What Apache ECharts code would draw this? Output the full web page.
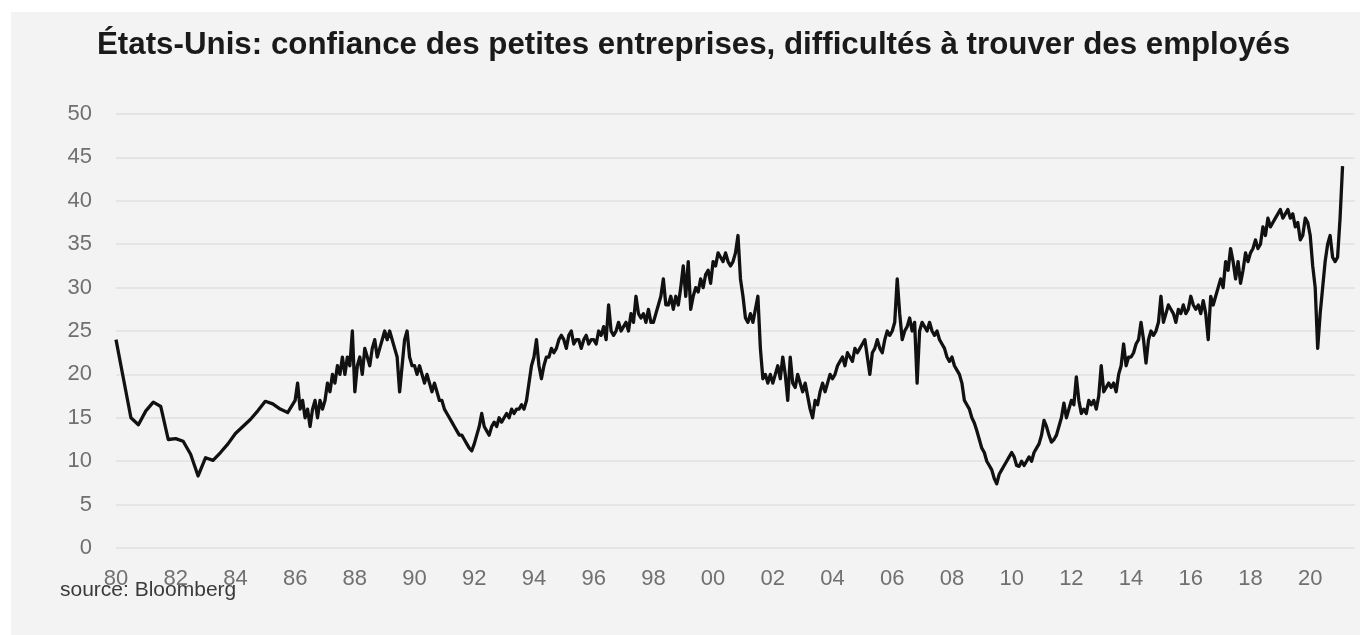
<!DOCTYPE html>
<html>
<head>
<meta charset="utf-8">
<script src="https://cdn.jsdelivr.net/npm/echarts@6/dist/echarts.min.js"></script>
<style>
html,body{margin:0;padding:0;background:#ffffff;}
#chart{position:absolute;left:11px;top:12px;width:1349px;height:623px;background:#f3f3f3;}
</style>
</head>
<body>
<div id="chart"></div>
<script>
// Quarterly survey values 1980 Q1 - 1985 Q4
const quarterly1980_1985 = [
  24, 19.5, 15, 14.2,
  15.8, 16.8, 16.3, 12.5,
  12.6, 12.3, 10.8, 8.3,
  10.4, 10.1, 11, 12,
  13.2, 14, 14.8, 15.8,
  16.9, 16.6, 16, 15.6
];
// Monthly values from Jan 1986
const monthly1986_1995 = [
  17, 19, 16, 17, 15, 16, 14, 16, 17, 15, 17, 16,
  17, 19, 18, 20, 19, 21, 20, 22, 20, 22, 21, 25,
  18, 21, 22, 20, 23, 22, 21, 23, 24, 22, 23, 24,
  25, 24, 25, 24, 23, 22, 18, 21, 24, 25, 22, 21,
  21, 20, 21, 20, 19, 20, 19, 18, 19, 18, 17, 17,
  16, 15.5, 15, 14.5, 14, 13.5, 13, 13, 12.5, 12, 11.5, 11.2,
  12, 13, 14, 15.5, 14, 13.5, 13, 14, 14.5, 14, 15, 14.5,
  15, 15.5, 15, 16, 15.5, 16, 16, 16.5, 16, 17, 19, 21,
  22, 24, 21, 19.5, 21, 22, 22, 23, 22.5, 23, 24, 24.5,
  24, 23, 24.5, 25, 23.5, 24, 24, 23, 24, 24.5, 23.5, 24
];
const monthly1996_2005 = [
  24, 23.5, 25, 24.5, 25.5, 24, 28, 25, 24.5, 25, 26, 25,
  25.5, 26, 25, 27, 26, 29, 27, 26.5, 27, 26, 27.5, 26,
  26, 27, 28, 29, 31, 28, 28, 29, 27.5, 29, 28, 30,
  32.5, 29, 33, 27.5, 29, 30, 29.5, 31, 30, 31.5, 32, 30.5,
  33, 32.5, 34, 33.5, 33, 34, 33, 32.5, 33, 34, 36, 31,
  29, 26.5, 26, 27, 26, 27.5, 29, 23, 19.5, 20, 19, 20,
  19, 20, 21, 19.5, 22, 20, 17, 22, 19, 18.5, 20, 19,
  18, 19, 17.5, 16, 15, 17, 16.5, 18, 19, 18, 19, 20,
  19.5, 20, 21, 21.5, 22, 21, 22.5, 22, 21.5, 23, 22.5, 23,
  23.5, 24, 22, 20, 22.5, 23, 24, 23, 22.5, 24, 25, 24.5
];
const monthly2006_2015 = [
  25, 26, 31, 27, 24, 25, 25.5, 26.5, 25, 26, 19, 25,
  26, 25.5, 25, 26, 25, 24.5, 25, 24, 23.5, 23, 22, 21.5,
  22, 21, 20.5, 20, 19, 17, 16.5, 16, 15, 14.4, 13.5, 12.5,
  11.5, 11, 10, 9.5, 9, 8, 7.4, 8.5, 9, 9.5, 10, 10.5,
  11, 10.5, 9.5, 9.4, 10, 9.5, 10, 10.5, 10, 11, 11.5, 12,
  13, 14.7, 14, 13, 12.2, 12.5, 13, 14, 15, 16.7, 15, 16,
  17, 16.5, 19.7, 17, 15.5, 16, 15.5, 17, 16.5, 17, 16, 17.5,
  21, 18, 18.5, 19, 18.5, 19, 18, 20, 21, 23.5, 21, 22,
  22, 22.5, 23.5, 24, 26, 24, 21.3, 24, 25, 24.5, 25, 26,
  29, 26, 27, 28, 27.5, 27, 26, 27.5, 27, 28, 27, 27.5
];
const monthly2016_2021 = [
  29, 28, 27.5, 28, 27, 28.5, 27, 24, 29, 28, 29, 30,
  31, 30, 33, 32, 34.5, 33, 31, 33, 30.5, 32, 34, 33,
  34, 34.5, 35.5, 34.5, 35, 37, 36, 38, 37, 37.5, 38, 38.5,
  39, 38, 38.5, 39, 38, 38.5, 37, 37.5, 35.5, 36, 38, 37.5,
  36, 32.5, 30, 23, 27, 30, 33, 35, 36, 33.5, 33, 33.5,
  38, 44
];
const yTicks = [0, 5, 10, 15, 20, 25, 30, 35, 40, 45, 50];
const titleText = 'États-Unis: confiance des petites entreprises, difficultés à trouver des employés';
const sourceText = 'source: Bloomberg';

const points = [];
quarterly1980_1985.forEach((v, i) => points.push([1980 + i * 0.25, v]));
const monthly = monthly1986_1995.concat(monthly1996_2005, monthly2006_2015, monthly2016_2021);
monthly.forEach((v, i) => points.push([1986 + i / 12, v]));

const chart = echarts.init(document.getElementById('chart'), null, {renderer: 'canvas'});
chart.setOption({
  backgroundColor: '#f3f3f3',
  animation: false,
  title: {
    text: titleText,
    left: 81, top: 13,
    textStyle: {fontFamily: 'Liberation Sans', fontWeight: 'bold', fontSize: 31.3, color: '#1a1a1a'}
  },
  grid: {left: 105, right: 5, top: 102, bottom: 87, containLabel: false},
  xAxis: {
    type: 'value', min: 1980, max: 2021.5, interval: 2,
    axisLine: {show: false}, axisTick: {show: false}, splitLine: {show: false},
    axisLabel: {
      showMaxLabel: false, margin: 20,
      fontFamily: 'Liberation Sans', fontSize: 22, color: '#707070',
      formatter: v => String(Math.round(v) % 100).padStart(2, '0')
    }
  },
  yAxis: {
    type: 'value', min: yTicks[0], max: yTicks[yTicks.length - 1], interval: 5,
    axisLine: {show: false}, axisTick: {show: false},
    splitLine: {lineStyle: {color: '#e1e1e1', width: 1.5}},
    axisLabel: {margin: 24, fontFamily: 'Liberation Sans', fontSize: 22, color: '#707070'}
  },
  graphic: [{
    type: 'text', left: 49, top: 568,
    style: {text: sourceText, fontFamily: 'Liberation Sans', fontSize: 21, fill: '#3a3a3a'}
  }],
  series: [{
    type: 'line', data: points, showSymbol: false,
    lineStyle: {color: '#111', width: 3.3, join: 'round'}
  }]
});
</script>
</body>
</html>
